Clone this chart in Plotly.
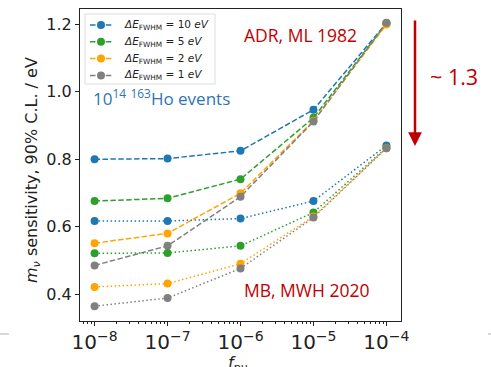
import plotly.graph_objects as go

# pile-up fraction
f_pu = [1e-8, 1e-7, 1e-6, 1e-5, 1e-4]

resolutions = ["10", "5", "2", "1"]
colors = ["#1f77b4", "#2ca02c", "#ffa500", "#808080"]

# ADR, ML 1982 (dashed)
adr_10 = [0.800, 0.802, 0.825, 0.947, 1.204]
adr_5 = [0.676, 0.684, 0.741, 0.923, 1.203]
adr_2 = [0.551, 0.580, 0.699, 0.914, 1.200]
adr_1 = [0.485, 0.543, 0.689, 0.912, 1.205]

# MB, MWH 2020 (dotted)
mb_10 = [0.617, 0.617, 0.624, 0.676, 0.841]
mb_5 = [0.521, 0.522, 0.543, 0.642, 0.835]
mb_2 = [0.421, 0.431, 0.490, 0.630, 0.833]
mb_1 = [0.364, 0.388, 0.476, 0.627, 0.833]

adr = [adr_10, adr_5, adr_2, adr_1]
mb = [mb_10, mb_5, mb_2, mb_1]

DASHED = "5.5px,2.4px"
DOTTED = "1.5px,2.5px"

fig = go.Figure()

for res, col, ys in zip(resolutions, colors, adr):
    fig.add_trace(go.Scatter(
        x=f_pu, y=ys, mode="lines+markers",
        line=dict(color=col, width=1.5, dash=DASHED),
        marker=dict(color=col, size=8),
        name=f"ΔE_FWHM = {res} eV",
    ))

for res, col, ys in zip(resolutions, colors, mb):
    fig.add_trace(go.Scatter(
        x=f_pu, y=ys, mode="lines+markers",
        line=dict(color=col, width=1.5, dash=DOTTED),
        marker=dict(color=col, size=8),
        name=f"ΔE_FWHM = {res} eV (MB)",
    ))

L, R, T, B = 80, 90, 9, 46
W, H = 491, 367
pw, ph = W - L - R, H - T - B


def px(x):
    return (x - L) / pw


def py(y):
    return (H - B - y) / ph


red = "#C00000"
text_font = "Open Sans"

annotations = [
    dict(x=px(91), y=py(97), text="10<sup>14</sup> <sup>163</sup>Ho events",
         font=dict(family=text_font, size=17, color="#2E75B6"),
         xanchor="left", yanchor="middle"),
    dict(x=px(242), y=py(35), text="ADR, ML 1982",
         font=dict(family=text_font, size=17.5, color=red),
         xanchor="left", yanchor="middle"),
    dict(x=px(242), y=py(290), text="MB, MWH 2020",
         font=dict(family=text_font, size=17.5, color=red),
         xanchor="left", yanchor="middle"),
    dict(x=px(428), y=py(76), text="~ 1.3",
         font=dict(family=text_font, size=21.5, color=red),
         xanchor="left", yanchor="middle"),
    # arrow
    dict(x=px(415), y=py(146), ax=0, ay=-127, axref="pixel", ayref="pixel",
         text="", showarrow=True, arrowcolor=red, arrowwidth=2.5,
         arrowhead=2, arrowsize=1.1),
    # axis titles
    dict(x=px(33), y=py(170), text="<i>m<sub>ν</sub></i> sensitivity, 90% C.L. / eV",
         textangle=-90, font=dict(family="DejaVu Sans", size=16, color="#222"),
         xanchor="center", yanchor="middle"),
    dict(x=px(238), y=py(351), text="<i>f</i><sub>pu</sub>",
         font=dict(family="DejaVu Sans", size=16, color="#222"),
         xanchor="center", yanchor="top"),
]

shapes = [
    dict(type="line", xref="paper", yref="paper", x0=px(0), x1=px(9),
         y0=py(334), y1=py(334), line=dict(color="#d9d9d9", width=2)),
    dict(type="line", xref="paper", yref="paper", x0=px(488), x1=px(491),
         y0=py(334), y1=py(334), line=dict(color="#d9d9d9", width=2)),
]

# legend box for the dashed series
shapes.append(dict(type="rect", xref="paper", yref="paper",
                   x0=px(85), x1=px(215), y0=py(14), y1=py(84),
                   fillcolor="rgba(255,255,255,0.8)",
                   line=dict(color="#dddddd", width=1), layer="above"))
for i, (res, col) in enumerate(zip(resolutions, colors)):
    yc = 25 + 16.8 * i
    shapes.append(dict(type="line", xref="paper", yref="paper",
                       x0=px(90), x1=px(112), y0=py(yc), y1=py(yc),
                       line=dict(color=col, width=1.5, dash=DASHED),
                       layer="above"))
    shapes.append(dict(type="circle", xref="paper", yref="paper",
                       x0=px(97), x1=px(105), y0=py(yc + 4), y1=py(yc - 4),
                       fillcolor=col, line=dict(width=0), layer="above"))
    annotations.append(dict(
        x=px(122), y=py(yc), xanchor="left", yanchor="middle",
        text=f"<i>ΔE</i><sub>FWHM</sub> = {res} <i>eV</i>",
        font=dict(family="DejaVu Sans", size=10.5, color="#222")))

for a in annotations:
    a.setdefault("showarrow", False)
    a.setdefault("xref", "paper")
    a.setdefault("yref", "paper")

fig.update_layout(
    width=W, height=H,
    margin=dict(l=L, r=R, t=T, b=B, pad=0),
    paper_bgcolor="white", plot_bgcolor="white",
    font=dict(family="DejaVu Sans", size=16, color="#222"),
    showlegend=False,
    annotations=annotations,
    shapes=shapes,
)

fig.update_xaxes(
    type="log", range=[-8.2, -3.8], dtick=1, exponentformat="power",
    showgrid=False, zeroline=False,
    showline=True, linecolor="#222", linewidth=1, mirror=True,
    ticks="outside", ticklen=4, tickcolor="#222",
    minor=dict(ticks="outside", ticklen=2, tickcolor="#222", showgrid=False),
    tickfont=dict(family="DejaVu Sans", size=16, color="#222"),
)
fig.update_yaxes(
    range=[0.32, 1.246], tickvals=[0.4, 0.6, 0.8, 1.0, 1.2],
    ticktext=["0.4", "0.6", "0.8", "1.0", "1.2"],
    showgrid=False, zeroline=False,
    showline=True, linecolor="#222", linewidth=1, mirror=True,
    ticks="outside", ticklen=4, tickcolor="#222",
    tickfont=dict(family="DejaVu Sans", size=16, color="#222"),
)

fig.write_html("out.html")
